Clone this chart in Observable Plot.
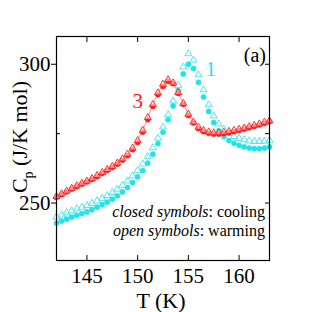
<!DOCTYPE html>
<html><head><meta charset="utf-8">
<script src="https://cdn.jsdelivr.net/npm/d3@7"></script>
<script src="https://cdn.jsdelivr.net/npm/@observablehq/plot@0.6"></script>
<style>body{margin:0;background:#fff}</style>
</head><body><div id="chart"></div>
<script>
const T = [142,142.5,143,143.5,144,144.5,145,145.5,146,146.5,147,147.5,148,148.5,149,149.5,150,150.5,151,151.5,152,152.5,153,153.5,154,154.5,155,155.5,156,156.5,157,157.5,158,158.5,159,159.5,160,160.5,161,161.5,162,162.5,163];
const redCooling = [252.0,253.0,254.0,255.0,255.9,256.8,257.6,258.5,259.5,260.6,261.7,262.8,264.0,265.4,267.0,269.2,271.8,275.5,280.0,284.8,289.0,292.0,293.8,293.0,289.5,285.5,281.5,278.8,276.8,275.7,275.1,274.8,274.8,275.0,275.3,275.7,276.1,276.6,277.1,277.6,278.1,278.7,279.3];
const redWarming = [252.4,253.3,254.3,255.3,256.2,257.1,257.9,258.8,259.9,261.0,262.1,263.2,264.4,265.9,267.6,269.8,272.5,276.2,280.8,285.5,289.7,292.8,294.4,293.3,289.8,285.9,282.0,279.2,277.3,276.2,275.6,275.3,275.3,275.5,275.8,276.2,276.6,277.0,277.5,278.0,278.5,279.1,279.6];
const cyanCooling = [242.8,243.5,244.2,244.9,245.6,246.2,246.8,247.6,248.5,249.4,250.3,251.4,252.6,254.0,255.6,257.4,259.4,261.7,264.4,267.6,271.4,275.5,280.0,285.0,290.5,296.5,300.0,298.5,293.5,288.2,283.0,279.0,276.0,274.0,272.5,271.5,270.8,270.2,269.8,269.6,269.6,269.8,270.2];
const cyanWarming = [245.0,245.7,246.5,247.2,247.9,248.5,249.1,249.9,250.8,251.7,252.7,253.8,255.0,256.4,258.0,259.8,261.8,264.1,266.8,269.9,273.4,277.4,281.8,286.8,292.4,299.0,303.8,301.5,296.2,290.8,285.4,281.4,278.5,276.5,275.0,274.0,273.3,272.8,272.4,272.2,272.2,272.3,272.6];
const xTicks = [145,150,155,160];
const yMajor = [250,300];
const yMinor = [275];
const curveLabels = ["3","1"];
const curveLabelT = [150.0,157.2];
const curveLabelCp = [286.6,298.2];
const RED = "#ff1a1a", CYAN = "#22e2ea";

const mk = vals => T.map((t,i)=>({T:t, Cp:vals[i]}));
const labelData = curveLabels.map((s,i)=>({s, T:curveLabelT[i], Cp:curveLabelCp[i], c: i===0?RED:CYAN}));
const F = "'Liberation Serif', 'DejaVu Serif', 'Times New Roman', Times, serif";

const plot = Plot.plot({
  width:312, height:312, marginLeft:56, marginRight:43, marginTop:36, marginBottom:52,
  style:{fontFamily:F, fontSize:"21px", background:"white", color:"black"},
  x:{domain:[142,163], label:null},
  y:{domain:[229.3,310], label:null},
  marks:[
    Plot.axisX(xTicks, {anchor:"bottom", tickSize:0, tickPadding:8, label:null, fontFamily:F}),
    Plot.axisX(xTicks, {anchor:"bottom", tickSize:-5, tickFormat:()=>"", label:null}),
    Plot.axisX(xTicks, {anchor:"top", tickSize:-5, tickFormat:()=>"", label:null}),
    Plot.axisY(yMajor, {anchor:"left", tickSize:5, tickPadding:1, label:null, fontFamily:F}),
    Plot.axisY(yMinor, {anchor:"left", tickSize:-4, tickFormat:()=>"", label:null}),
    Plot.axisY(yMajor.concat(yMinor), {anchor:"right", tickSize:-5, tickFormat:()=>"", label:null}),
    Plot.line(mk(redWarming), {x:"T", y:"Cp", stroke:RED, strokeWidth:0.6, strokeOpacity:0.8}),
    Plot.dot(mk(cyanCooling), {x:"T", y:"Cp", r:2.6, fill:CYAN, stroke:CYAN, strokeWidth:0.5}),
    Plot.dot(mk(cyanWarming), {x:"T", y:"Cp", symbol:"triangle", r:2.6, fill:"white", fillOpacity:0.6, stroke:CYAN, strokeWidth:0.8}),
    Plot.dot(mk(redCooling), {x:"T", y:"Cp", r:2.5, fill:RED, stroke:RED, strokeWidth:0.5}),
    Plot.dot(mk(redWarming), {x:"T", y:"Cp", symbol:"triangle", r:2.6, fill:"white", fillOpacity:0.5, stroke:RED, strokeWidth:0.9}),
    Plot.text(labelData, {x:"T", y:"Cp", text:"s", fill:"c", fontSize:21, fontFamily:F}),
    Plot.frame({stroke:"black", strokeWidth:1.2})
  ]
});
document.getElementById("chart").append(plot);
const svg = d3.select(plot);
svg.append("text").attr("x",266).attr("y",62).attr("text-anchor","end").attr("font-size",20).text("(a)");
const leg = [["closed symbols",": cooling",217],["open symbols",": warming",236]];
for (const [a,b,y] of leg) {
  const t = svg.append("text").attr("x",265).attr("y",y).attr("text-anchor","end").attr("font-size",16);
  t.append("tspan").attr("font-style","italic").text(a);
  t.append("tspan").text(b);
}
svg.append("text").attr("x",161).attr("y",308).attr("text-anchor","middle").attr("font-size",22).text("T (K)");
const yl = svg.append("text").attr("transform","translate(27,137) rotate(-90)").attr("text-anchor","middle").attr("font-size",22);
yl.append("tspan").text("C");
yl.append("tspan").attr("font-size",14).attr("dy",6).text("p");
yl.append("tspan").attr("dy",-6).text(" (J/K mol)");
svg.attr("font-family",F);
svg.selectAll("text").attr("font-family",F);
</script></body></html>
